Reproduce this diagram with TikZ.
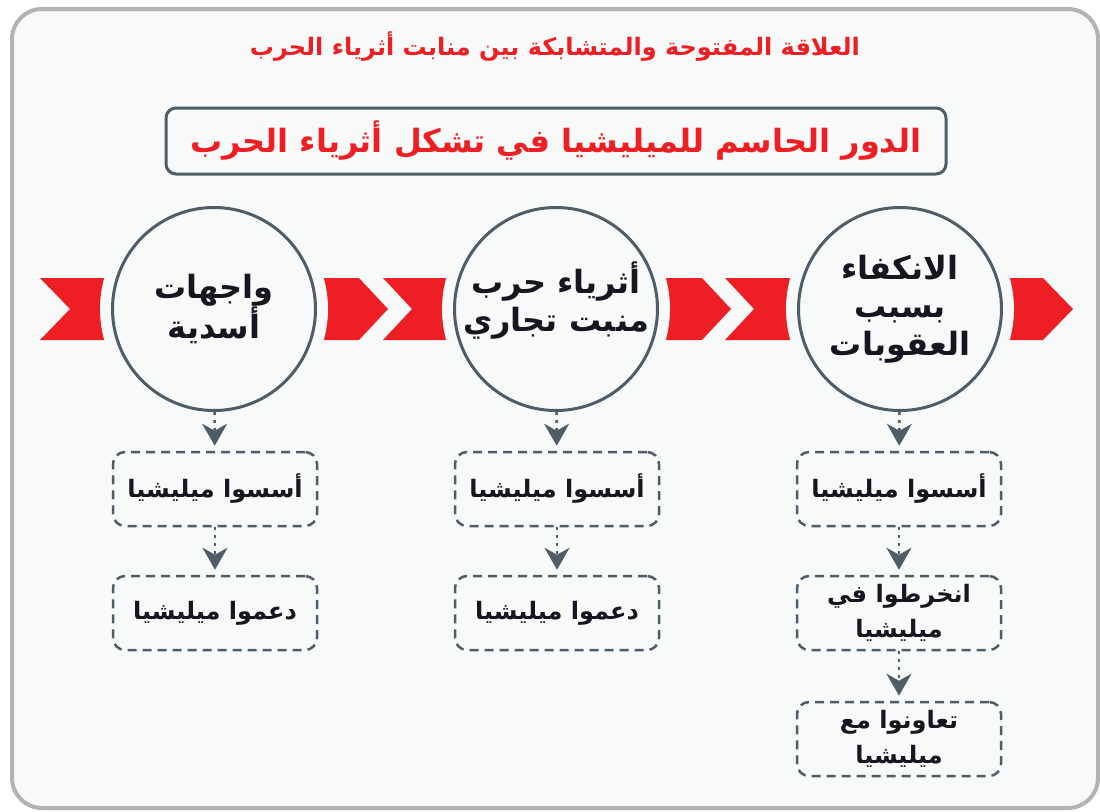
\documentclass[tikz,border=0pt]{standalone}
\usepackage{fontspec}
\newfontfamily\arabicfont[Script=Arabic]{DejaVu Sans}
\TeXXeTstate=1
\usetikzlibrary{arrows.meta}
\definecolor{warred}{HTML}{EE1F24}
\definecolor{slate}{HTML}{4F5D67}
\definecolor{paper}{HTML}{F8F9F9}
\definecolor{frame}{HTML}{B3B3B3}
\definecolor{ink}{HTML}{17151F}
\begin{document}
\begin{tikzpicture}[x = 1pt, y = -1pt,
  stage/.style = {circle, draw = slate, line width = 3pt, fill = paper,
    minimum size = 203pt, inner sep = -20pt, align = center, text = ink,
    font = \arabicfont\bfseries\fontsize{32}{38}\selectfont},
  act/.style = {draw = slate, line width = 2.5pt, dash pattern = on 9pt off 6pt,
    rounded corners = 12pt, minimum width = 204pt, minimum height = 74pt,
    align = center, text = ink, font = \arabicfont\bfseries\fontsize{24}{35}\selectfont},
  flow/.style = {slate, line width = 2.5pt, dash pattern = on 3pt off 5pt,
    -{Stealth[length = 22pt, width = 25pt, inset = 7pt]}, shorten > = 5pt},
  gap/.style = {fill = paper}]
  \useasboundingbox (0,0) rectangle (1100,811);
  \draw [line width = 4pt, draw = frame, fill = paper, rounded corners = 30pt] (12,9) rectangle (1098,808);
  \node [text = warred, font = \arabicfont\bfseries\fontsize{24}{28}\selectfont] (heading) at (555,47)
    {\beginR العلاقة المفتوحة والمتشابكة بين منابت أثرياء الحرب\endR};
  \node [draw = slate, line width = 3pt, rounded corners = 10pt, fill = paper,
    minimum width = 780pt, minimum height = 66pt, text = warred,
    font = \arabicfont\bfseries\fontsize{32}{38}\selectfont] (theme) at (556,141)
    {\beginR الدور الحاسم للميليشيا في تشكل أثرياء الحرب\endR};
  \fill [warred] (40,278) -- (150,278) -- (150,340) -- (40,340) -- (70,309) -- cycle;
  \fill [warred] (280,278) -- (359,278) -- (388,309) -- (359,340) -- (280,340) -- cycle;
  \fill [warred] (383,278) -- (500,278) -- (500,340) -- (383,340) -- (412,309) -- cycle;
  \fill [warred] (620,278) -- (702,278) -- (731,309) -- (702,340) -- (620,340) -- cycle;
  \fill [warred] (725,278) -- (850,278) -- (850,340) -- (725,340) -- (754,309) -- cycle;
  \fill [warred] (960,278) -- (1043,278) -- (1073,309) -- (1043,340) -- (960,340) -- cycle;
  \fill [gap] (214,309) circle (114);
  \fill [gap] (556,309) circle (114);
  \fill [gap] (900,309) circle (114);
  \node [stage] (fronts) at (214,309) {\beginR واجهات\endR\\\beginR أسدية\endR};
  \node [stage] (trade) at (556,309) {\beginR أثرياء حرب\endR\\\beginR منبت تجاري\endR\\[-14pt]};
  \node [stage] (retreat) at (900,309) {\beginR الانكفاء\endR\\\beginR بسبب\endR\\\beginR العقوبات\endR};
  \node [act] (fronts1) at (215,489) {\beginR أسسوا ميليشيا\endR};
  \node [act] (fronts2) at (215,613) {\beginR دعموا ميليشيا\endR};
  \node [act] (trade1) at (557,489) {\beginR أسسوا ميليشيا\endR};
  \node [act] (trade2) at (557,613) {\beginR دعموا ميليشيا\endR};
  \node [act] (retreat1) at (899,489) {\beginR أسسوا ميليشيا\endR};
  \node [act] (retreat2) at (899,613) {\beginR انخرطوا في\endR\\\beginR ميليشيا\endR};
  \node [act] (retreat3) at (899,739) {\beginR تعاونوا مع\endR\\\beginR ميليشيا\endR};
  \draw [flow] (fronts) -- (fronts1);
  \draw [flow] (fronts1) -- (fronts2);
  \draw [flow] (trade) -- (trade1);
  \draw [flow] (trade1) -- (trade2);
  \draw [flow] (retreat) -- (retreat1);
  \draw [flow] (retreat1) -- (retreat2);
  \draw [flow] (retreat2) -- (retreat3);
\end{tikzpicture}
\end{document}
